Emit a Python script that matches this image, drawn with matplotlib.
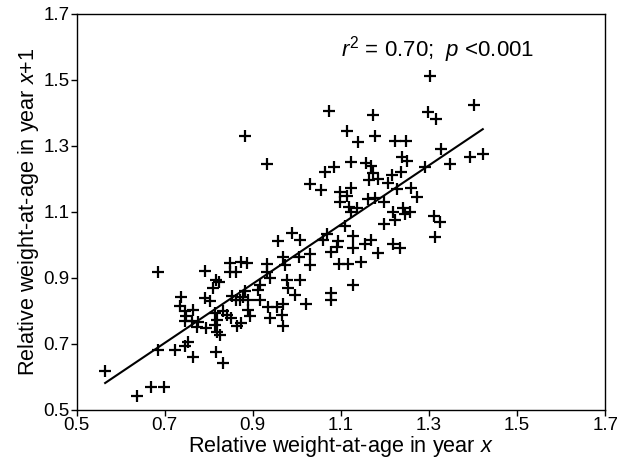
import numpy as np
import matplotlib
matplotlib.use("Agg")
import matplotlib.pyplot as plt

plt.rcParams["font.family"] = ["Liberation Sans", "DejaVu Sans"]
plt.rcParams["mathtext.fontset"] = "custom"
plt.rcParams["mathtext.rm"] = "Liberation Sans"
plt.rcParams["mathtext.it"] = "Liberation Sans:italic"

# relative weight-at-age, year x vs year x+1
wt_year_x = [
    0.565, 0.637, 0.669, 0.698, 0.685, 0.685, 0.723, 0.746, 0.753, 0.764, 0.816, 0.832,
    0.791, 0.816, 0.823, 0.810, 0.737, 0.791, 0.803, 0.735, 0.746, 0.764, 0.748, 0.746,
    0.762, 0.776, 0.773, 0.794, 0.814, 0.832, 0.841, 0.819, 0.850, 0.819, 0.825, 0.814,
    0.864, 0.873, 0.848, 0.873, 0.887, 0.848, 0.862, 0.853, 0.862,
    0.882, 0.878, 0.871, 0.889, 0.916, 0.912, 0.916, 0.889, 0.893, 0.932, 0.932, 0.939,
    0.968, 0.973, 1.005, 1.029, 1.029, 0.977, 1.007, 0.980, 0.995, 1.020, 0.934, 0.955,
    0.968, 0.966, 0.939, 0.968,
    0.957, 1.007, 0.989, 1.059, 1.068, 1.093, 1.091, 1.077, 1.109, 1.073, 0.882, 1.113,
    1.138, 0.932, 1.122, 1.063, 1.084, 1.029, 1.054, 1.122, 1.098, 1.113, 1.099, 1.118,
    1.122, 1.127, 1.127, 1.095, 1.116, 1.077, 1.077, 1.127,
    1.302, 1.401, 1.172, 1.297, 1.315, 1.177, 1.222, 1.247, 1.327, 1.238, 1.249, 1.156,
    1.168, 1.347, 1.392, 1.422, 1.290, 1.172, 1.163, 1.184, 1.215, 1.236, 1.206, 1.227,
    1.259, 1.272, 1.161, 1.177, 1.197, 1.136, 1.218, 1.240, 1.245, 1.256, 1.222, 1.197,
    1.311, 1.324, 1.313, 1.154, 1.168, 1.184, 1.145, 1.218, 1.234,
]
wt_year_x1 = [
    0.617, 0.541, 0.568, 0.568, 0.917, 0.681, 0.681, 0.693, 0.705, 0.659, 0.674, 0.641,
    0.920, 0.893, 0.887, 0.869, 0.841, 0.838, 0.829, 0.814, 0.799, 0.802, 0.784, 0.769,
    0.769, 0.765, 0.750, 0.747, 0.793, 0.799, 0.787, 0.772, 0.778, 0.735, 0.726, 0.756,
    0.753, 0.762, 0.944, 0.948, 0.944, 0.917, 0.917, 0.844, 0.832,
    0.860, 0.841, 0.832, 0.832, 0.832, 0.863, 0.878, 0.802, 0.784, 0.941, 0.917, 0.899,
    0.963, 0.939, 0.963, 0.972, 0.939, 0.893, 0.893, 0.869, 0.847, 0.820, 0.811, 0.811,
    0.820, 0.787, 0.778, 0.753,
    1.011, 1.014, 1.035, 1.014, 1.032, 1.011, 0.993, 0.978, 1.057, 1.406, 1.330, 1.345,
    1.312, 1.245, 1.251, 1.221, 1.236, 1.184, 1.166, 1.172, 1.160, 1.148, 1.130, 1.114,
    1.099, 1.026, 0.990, 0.941, 0.941, 0.853, 0.832, 0.878,
    1.512, 1.424, 1.394, 1.403, 1.381, 1.330, 1.315, 1.315, 1.290, 1.266, 1.254, 1.248,
    1.239, 1.245, 1.266, 1.275, 1.236, 1.218, 1.196, 1.199, 1.211, 1.221, 1.187, 1.169,
    1.172, 1.145, 1.139, 1.142, 1.130, 1.111, 1.099, 1.111, 1.093, 1.099, 1.075, 1.063,
    1.087, 1.069, 1.023, 1.002, 1.014, 0.975, 0.948, 1.002, 0.990,
]
ticks = [0.5, 0.7, 0.9, 1.1, 1.3, 1.5, 1.7]
r2_text = "$r^2$ = 0.70;  $p$ <0.001"

x = np.array(wt_year_x)
y = np.array(wt_year_x1)

fig = plt.figure(figsize=(6.17, 4.65), dpi=100)
ax = fig.add_axes([0.124, 0.119, 0.857, 0.851])

ax.plot(x, y, ls="none", marker="+", ms=8, mew=1.6, color="black")

# least-squares line over the data range
slope, icpt = np.polyfit(x, y, 1)
xl = np.array([x.min(), x.max()])
ax.plot(xl, slope * xl + icpt, color="black", lw=1.5)

ax.set_xlim(0.5, 1.7)
ax.set_ylim(0.5, 1.7)
ax.set_xticks(ticks)
ax.set_yticks(ticks)
ax.set_xticklabels([f"{t:.1f}" for t in ticks])
ax.set_yticklabels([f"{t:.1f}" for t in ticks])
ax.tick_params(direction="out", length=4, width=1, labelsize=13.5, pad=1)
for s in ax.spines.values():
    s.set_linewidth(1)

ax.set_xlabel("Relative weight-at-age in year $x$", fontsize=15.6, labelpad=0)
ax.set_ylabel("Relative weight-at-age in year $x$+1", fontsize=15.6, labelpad=2)
ax.text(0.50, 0.91, r2_text, transform=ax.transAxes, fontsize=16, va="center", ha="left")

fig.savefig("out.png", dpi=100)
